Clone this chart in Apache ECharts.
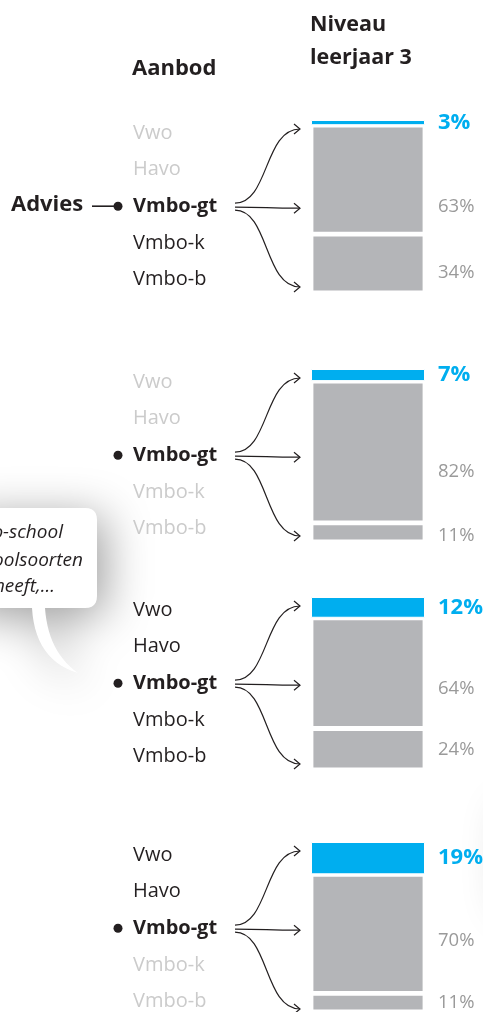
<!DOCTYPE html>
<html>
<head>
<meta charset="utf-8">
<script src="https://cdn.jsdelivr.net/npm/echarts@6/dist/echarts.min.js"></script>
<style>
  html, body { margin: 0; padding: 0; background: #fff; }
  #chart { width: 483px; height: 1012px; }
</style>
</head>
<body>
<div id="chart"></div>
<script>
// niveaus in het aanbod, van hoog naar laag
var levels = ['Vwo', 'Havo', 'Vmbo-gt', 'Vmbo-k', 'Vmbo-b'];
// welke niveaus de school aanbiedt (1 = aangeboden), per blok
var offered = [
    [0, 0, 1, 1, 1],
    [0, 0, 1, 0, 0],
    [1, 1, 1, 1, 1],
    [1, 1, 1, 0, 0]
];
// niveau leerjaar 3 bij advies vmbo-gt, in %
var upShare = [3, 7, 12, 19];
var sameShare = [63, 82, 64, 70];
var downShare = [34, 11, 24, 11];

var BLUE = '#00aeef';
var BAR_GRAY = '#b4b5b8';
var LABEL_GRAY = '#9a9a9a';
var LIGHT = '#cbcbcb';
var DARK = '#231f20';
var FONT = '"Open Sans", sans-serif';

var panelTop = [120, 369, 597, 842];
var panelH = 173;
var midDy = [27, 20, 16, 7];
var botDy = [9, 3, 0, 0];

var chart = echarts.init(document.getElementById('chart'));

var grids = [], xAxes = [], yAxes = [], series = [], graphics = [];

function pctLabel(color, bold, size, dy) {
    return {
        show: true,
        position: 'right',
        distance: 13,
        offset: [0, dy],
        color: color,
        fontFamily: FONT,
        fontWeight: bold ? 'bold' : 'normal',
        fontSize: size,
        formatter: '{c}%'
    };
}

function text(x, y, str, opts) {
    opts = opts || {};
    return {
        type: 'text',
        silent: true,
        style: {
            x: x, y: y, text: str,
            font: (opts.italic ? 'italic ' : '') + (opts.bold ? 'bold ' : '') + (opts.size || 18) + 'px ' + FONT,
            fill: opts.color || DARK,
            textAlign: opts.align || 'left',
            textVerticalAlign: 'middle'
        }
    };
}

// outline of the speech bubble, sampled into a polygon
function quad(pts, a, c, b, n) {
    for (var k = 1; k <= n; k++) {
        var t = k / n, u = 1 - t;
        pts.push([u * u * a[0] + 2 * u * t * c[0] + t * t * b[0], u * u * a[1] + 2 * u * t * c[1] + t * t * b[1]]);
    }
}
var bubble = [[-40, 508], [85, 508]];
quad(bubble, [85, 508], [97, 508], [97, 520], 6);
bubble.push([97, 596]);
quad(bubble, [97, 596], [97, 608], [85, 608], 6);
bubble.push([45, 608]);
quad(bubble, [45, 608], [48, 652], [78, 673], 14);
quad(bubble, [78, 673], [35, 660], [32, 608], 14);
bubble.push([-40, 608]);

graphics.push({
    type: 'polygon', silent: true,
    shape: { points: bubble },
    style: { fill: '#fff', shadowBlur: 45, shadowColor: 'rgba(0,0,0,0.38)', shadowOffsetX: 8, shadowOffsetY: 8 }
});
graphics.push(text(63, 533, 'o-school', { italic: true, size: 19, align: 'right' }));
graphics.push(text(83, 561, 'oolsoorten', { italic: true, size: 19, align: 'right' }));
graphics.push(text(55, 587, 'heeft,...', { italic: true, size: 19, align: 'right' }));

// faint shadow of something just outside the right edge
graphics.push({
    type: 'rect', silent: true,
    shape: { x: 500, y: 800, width: 120, height: 110, r: 12 },
    style: { fill: '#fff', shadowBlur: 40, shadowColor: 'rgba(0,0,0,0.15)', shadowOffsetX: 0, shadowOffsetY: 4 }
});

// headers
graphics.push(text(132, 69, 'Aanbod', { bold: true, size: 22 }));
graphics.push(text(310, 25, 'Niveau', { bold: true, size: 21.5 }));
graphics.push(text(310, 58, 'leerjaar 3', { bold: true, size: 21.5 }));

panelTop.forEach(function (top, p) {
    grids.push({ left: 311, top: top, width: 114, height: panelH });
    xAxes.push({ type: 'category', gridIndex: p, data: ['Vmbo-gt'], show: false });
    yAxes.push({ type: 'value', gridIndex: p, min: 0, max: 100, show: false });

    var stack = 'p' + p;
    series.push({
        type: 'bar', xAxisIndex: p, yAxisIndex: p, stack: stack, barWidth: '100%',
        itemStyle: { color: BAR_GRAY, borderColor: '#fff', borderWidth: 2.4 },
        label: pctLabel(LABEL_GRAY, false, 18.5, botDy[p]),
        silent: true,
        data: [downShare[p]]
    });
    series.push({
        type: 'bar', xAxisIndex: p, yAxisIndex: p, stack: stack, barWidth: '100%',
        itemStyle: { color: BAR_GRAY, borderColor: '#fff', borderWidth: 2.4 },
        label: pctLabel(LABEL_GRAY, false, 18.5, midDy[p]),
        silent: true,
        data: [sameShare[p]]
    });
    series.push({
        type: 'bar', xAxisIndex: p, yAxisIndex: p, stack: stack, barWidth: '100%',
        itemStyle: { color: BLUE, borderColor: '#fff', borderWidth: 1 },
        label: pctLabel(BLUE, true, 22, 0),
        silent: true,
        data: [upShare[p]]
    });

    // row labels
    var rowY = function (i) { return top + 13 + i * 36.6; };
    levels.forEach(function (lv, i) {
        graphics.push(text(133, rowY(i), lv, {
            bold: i === 2,
            size: 20,
            color: offered[p][i] ? DARK : LIGHT
        }));
    });

    var gtY = rowY(2);
    // advice marker
    graphics.push({ type: 'circle', silent: true, shape: { cx: 118, cy: gtY, r: 4.5 }, style: { fill: DARK } });
    if (p === 0) {
        graphics.push(text(11, gtY - 1, 'Advies', { bold: true, size: 22 }));
        graphics.push({ type: 'line', silent: true, shape: { x1: 92, y1: gtY, x2: 116, y2: gtY }, style: { stroke: DARK, lineWidth: 1.6 } });
    }

    // arrows from vmbo-gt to the three outcomes
    var x0 = 235, x1 = 300;
    var ends = [
        { y0: gtY - 3, y1: top + 9 },
        { y0: gtY + 1, y1: gtY + 2 },
        { y0: gtY + 4, y1: top + panelH - 6 }
    ];
    ends.forEach(function (e) {
        graphics.push({
            type: 'bezierCurve', silent: true,
            shape: { x1: x0, y1: e.y0, cpx1: x0 + 34, cpy1: e.y0, cpx2: x1 - 36, cpy2: e.y1, x2: x1, y2: e.y1 },
            style: { stroke: DARK, lineWidth: 1.2, fill: null }
        });
        graphics.push({
            type: 'polyline', silent: true,
            shape: { points: [[x1 - 6, e.y1 - 5], [x1, e.y1], [x1 - 6, e.y1 + 5]] },
            style: { stroke: DARK, lineWidth: 1.2, fill: null }
        });
    });
});

var option = {
    animation: false,
    backgroundColor: '#fff',
    grid: grids,
    xAxis: xAxes,
    yAxis: yAxes,
    series: series,
    graphic: { elements: graphics }
};

option && chart.setOption(option);
</script>
</body>
</html>
